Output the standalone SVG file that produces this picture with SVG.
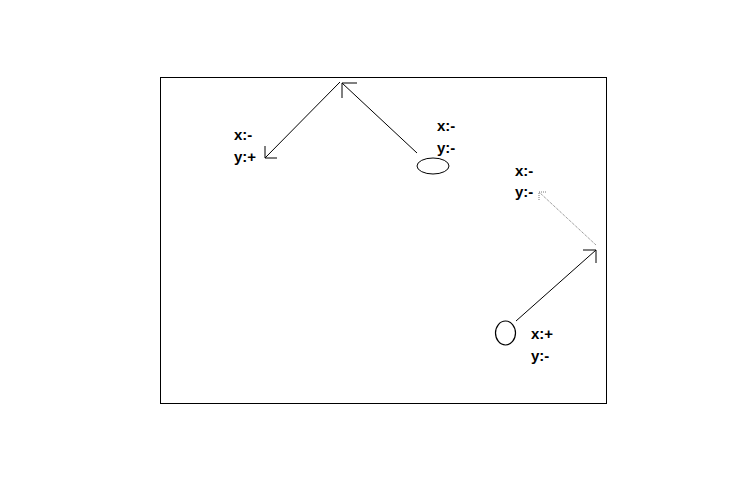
<svg xmlns="http://www.w3.org/2000/svg" width="750" height="500" viewBox="0 0 750 500">
<style>
text{font-family:"Liberation Sans",Arial,sans-serif;font-size:15px;font-weight:bold;fill:#000}
.ln{stroke:#000;stroke-width:1;fill:none}
.dot{stroke:#777;stroke-width:1;fill:none;stroke-dasharray:1,1}
</style>
<rect width="750" height="500" fill="#fff"/>
<rect id="frame" x="160.5" y="77.5" width="446" height="326" fill="none" stroke="#000" stroke-width="1"/>
<g id="connectors">
<path class="ln" d="M340,82 L265,158 M265,146 L265,158 L277,158"/>
<path class="ln" d="M417,153 L342,83 M342,98 L342,83 L357,83"/>
<path class="ln" d="M516,321 L596,250 M583,250 L596,250 L596,263"/>
<path class="dot" d="M596,245 L539,192 M539,200 L539,192 L547,192"/>
</g>
<g id="node-ellipse">
<ellipse cx="433" cy="166" rx="16" ry="8" fill="none" stroke="#000" stroke-width="1"/>
</g>
<g id="node-circle">
<ellipse cx="505.5" cy="333" rx="10" ry="12" fill="none" stroke="#000" stroke-width="1.2"/>
</g>
<g id="labels">
<text x="234" y="140">x:-</text>
<text x="234" y="162">y:+</text>
<text x="437" y="131">x:-</text>
<text x="437" y="153">y:-</text>
<text x="515" y="176">x:-</text>
<text x="515" y="197">y:-</text>
<text x="531" y="339">x:+</text>
<text x="531" y="361">y:-</text>
</g>
</svg>
